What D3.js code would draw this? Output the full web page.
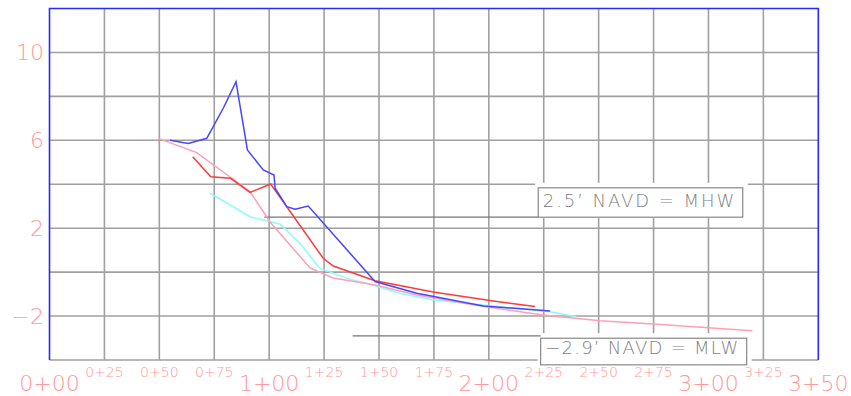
<!DOCTYPE html>
<html>
<head>
<meta charset="utf-8">
<script src="https://cdn.jsdelivr.net/npm/d3@7"></script>
<style>
  html, body { margin: 0; padding: 0; background: #fff; }
  svg { display: block; font-family: "DejaVu Sans", sans-serif; }
</style>
</head>
<body>
<svg id="chart" width="851" height="396"></svg>
<script>
// Profile data (station in ft, elevation in ft NAVD)
const blueX = [54.9, 63.2, 71.6, 79.1, 84.9, 90.1, 97.3, 102.2, 102.7, 108.0, 111.8, 117.8, 148.2, 167.2, 197.5, 227.9];
const blueY = [6.0, 5.86, 6.09, 7.46, 8.67, 5.56, 4.65, 4.42, 3.82, 2.98, 2.86, 3.01, -0.43, -0.96, -1.54, -1.77];

const redX = [65.2, 73.4, 82.5, 91.3, 100.7, 124.6, 129.2, 148.2, 174.7, 202.0, 221.0];
const redY = [5.25, 4.34, 4.27, 3.63, 4.01, 0.63, 0.28, -0.39, -0.90, -1.31, -1.57];

const pinkX = [49.5, 67.0, 82.2, 91.3, 100.4, 118.6, 129.1, 148.2, 167.2, 192.8, 224.7, 250.6, 274.8, 320.0];
const pinkY = [6.09, 5.44, 4.33, 3.66, 2.28, 0.19, -0.27, -0.59, -1.04, -1.49, -1.95, -2.21, -2.36, -2.67];

const cyanX = [73.1, 91.3, 104.9, 114.0, 123.1, 136.8, 144.4, 159.5, 174.6, 227.9, 240.0];
const cyanY = [3.59, 2.52, 2.19, 1.31, 0.17, -0.33, -0.51, -0.96, -1.27, -1.80, -2.03];

// Axis ticks
const xTicks = d3.range(0, 351, 25);
const yTicks = d3.range(-4, 12.1, 2);
const yLabels = [10, 6, 2, -2];

// Tidal datums: elevation, line start, label box extent (station)
const datums = [
  { label: "2.5\u2019 NAVD = MHW", elev: 2.5, from: 97.8, box: [222.5, 315.6], above: true },
  { label: "\u22122.9\u2019 NAVD = MLW", elev: -2.9, from: 138.0, box: [223.6, 317.4], above: false }
];

const svg = d3.select("#chart");
const x = d3.scaleLinear().domain([0, 350]).range([49.5, 818.3]);
const y = d3.scaleLinear().domain([-4, 12]).range([360, 8.5]);

function stationLabel(v) {
  const h = Math.floor(v / 100), r = v % 100;
  return h + "+" + (r < 10 ? "0" + r : r);
}

// Grid
const grid = svg.append("g").attr("stroke", "#a0a0a0").attr("stroke-width", 1.6);
grid.selectAll("line.v").data(xTicks.slice(1, -1)).join("line")
  .attr("x1", d => x(d)).attr("x2", d => x(d))
  .attr("y1", y(12)).attr("y2", y(-4));
grid.selectAll("line.h").data(yTicks.slice(0, -1)).join("line")
  .attr("x1", x(0)).attr("x2", x(350))
  .attr("y1", d => y(d)).attr("y2", d => y(d));

// Blue frame (top, left, right)
svg.append("path")
  .attr("d", `M${x(0)},${y(-4)}V${y(12)}H${x(350)}V${y(-4)}`)
  .attr("fill", "none").attr("stroke", "#2828ff").attr("stroke-width", 1.6);

// Y labels
svg.append("g").selectAll("text").data(yLabels).join("text")
  .attr("x", 44).attr("y", d => y(d) + 8)
  .attr("text-anchor", "end")
  .attr("font-size", 22).attr("font-weight", 200)
  .attr("fill", "#ff9898")
  .text(d => d < 0 ? "\u2212" + Math.abs(d) : d);

// X labels
svg.append("g").selectAll("text").data(xTicks).join("text")
  .attr("x", d => x(d))
  .attr("y", d => d % 100 === 0 || d === 350 ? 391 : 377)
  .attr("text-anchor", "middle")
  .attr("font-size", d => d % 100 === 0 || d === 350 ? 22 : 14)
  .attr("font-weight", 200)
  .attr("fill", "#ff9898")
  .text(stationLabel);

// Datum lines with label boxes
datums.forEach(dm => {
  const g = svg.append("g");
  const x0 = x(dm.box[0]), x1 = x(dm.box[1]);
  const yl = y(dm.elev);
  const top = dm.above ? yl - 29.4 : yl + 2.4;
  const bot = dm.above ? yl : yl + 29;
  g.append("rect")
    .attr("x", x0 - 3).attr("y", top - 5)
    .attr("width", x1 - x0 + 8).attr("height", bot - top + 6)
    .attr("fill", "#fff");
  g.append("line")
    .attr("x1", x(dm.from)).attr("x2", x0)
    .attr("y1", yl).attr("y2", yl)
    .attr("stroke", "#777").attr("stroke-width", 1.2);
  g.append("rect")
    .attr("x", x0).attr("y", top)
    .attr("width", x1 - x0).attr("height", bot - top)
    .attr("fill", "#fff").attr("stroke", "#888").attr("stroke-width", 1.2);
  g.append("text")
    .attr("x", x0 + 4.5).attr("y", bot - 10.5)
    .attr("font-size", 18).attr("font-weight", 200)
    .attr("fill", "#808080")
    .attr("textLength", x1 - x0 - 13).attr("lengthAdjust", "spacing")
    .text(dm.label);
});

// Profiles
const line = d3.line().x(d => x(d[0])).y(d => y(d[1]));
const series = [
  { xs: cyanX, ys: cyanY, color: "#8cfcfc" },
  { xs: pinkX, ys: pinkY, color: "#ff9fb4" },
  { xs: redX, ys: redY, color: "#ff3a3a" },
  { xs: blueX, ys: blueY, color: "#4646ff" }
];
svg.append("g").selectAll("path").data(series).join("path")
  .attr("d", s => line(d3.zip(s.xs, s.ys)))
  .attr("fill", "none")
  .attr("stroke", s => s.color)
  .attr("stroke-width", 1.5);
</script>
</body>
</html>
